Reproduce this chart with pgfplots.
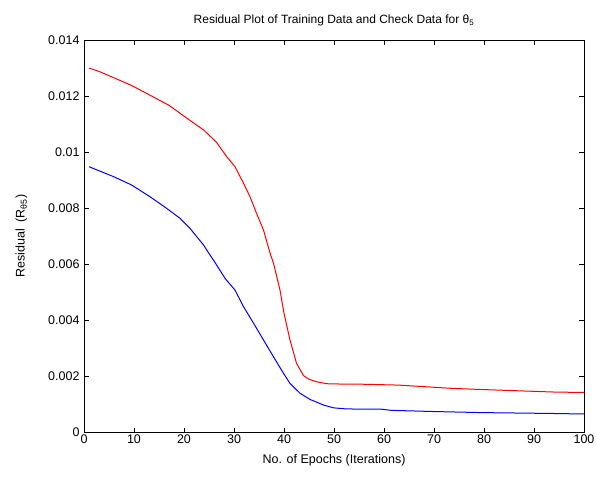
\documentclass[border=0pt]{standalone}
\usepackage{pgfplots}
\pgfplotsset{compat=1.18}
\usepackage{fontspec}
\setmainfont{Liberation Sans}
\begin{document}
\begin{tikzpicture}[x=1pt,y=1pt]
\begin{axis}[
  scale only axis,
  width=500pt, height=392.5pt,
  xmin=0, xmax=100, ymin=0, ymax=0.014,
  xtick={0,10,...,100},
  ytick={0,0.002,0.004,0.006,0.008,0.01,0.012,0.014},
  yticklabels={0,0.002,0.004,0.006,0.008,0.01,0.012,0.014},
  scaled y ticks=false,
  /pgf/number format/assume math mode=true,
  tick align=inside,
  major tick length=5pt,
  tick style={black, line width=0.6pt},
  axis line style={black, line width=0.8pt},
  ticklabel style={font=\fontsize{12.5}{14}\selectfont},
  label style={font=\fontsize{12.5}{14}\selectfont},
  xticklabel style={yshift=1pt},
  yticklabel style={xshift=-1pt},
  xlabel={No. of Epochs (Iterations)},
  ylabel={Residual\ \ (R\textsubscript{θ5})},
  xlabel style={yshift=-4pt},
  ylabel style={yshift=14pt},
  title={Residual Plot of Training Data and Check Data for θ\textsubscript{5}},
  title style={font=\fontsize{12}{14}\selectfont, yshift=4pt},
]
\addplot[red, line width=1pt] coordinates {
(1,0.01300)(3,0.01288)(6,0.01265)(9.5,0.01238)(13,0.01205)(17,0.01167)(20.5,0.01122)(24,0.01078)(26.5,0.01035)(28.5,0.00985)(30.2,0.00948)(31.9,0.00889)(33.2,0.00841)(34.5,0.00782)(35.9,0.00722)(37.2,0.00640)(37.9,0.00604)(39.2,0.00508)(40,0.00425)(41.2,0.0033)(42.5,0.00247)(43.9,0.00203)(45,0.00190)(46.5,0.00181)(48.5,0.00174)(51,0.00173)(56.5,0.00172)(63,0.00169)(68.5,0.00163)(73,0.00158)(78.5,0.00154)(86.5,0.00149)(94.5,0.00144)(100,0.00143)
};
\addplot[blue, line width=1pt] coordinates {
(1,0.00948)(6,0.00912)(9.5,0.00883)(13.2,0.00841)(16.5,0.00800)(19.2,0.00764)(21.2,0.00728)(23.9,0.00669)(25.2,0.00633)(25.9,0.00615)(28.2,0.0055)(30.2,0.00508)(31.9,0.00449)(33.9,0.0039)(35.9,0.0033)(37.9,0.0027)(39.9,0.00211)(41.2,0.00175)(43.2,0.0014)(45.2,0.00118)(47.9,0.00098)(49.9,0.00088)(52.5,0.00084)(59.5,0.00083)(61.5,0.00079)(69.5,0.00075)(79.5,0.00071)(93.2,0.00068)(100,0.00066)
};
\end{axis}
\pgfresetboundingbox
\path (-84pt,-46.5pt) rectangle (512pt,432.5pt);
\end{tikzpicture}
\end{document}
